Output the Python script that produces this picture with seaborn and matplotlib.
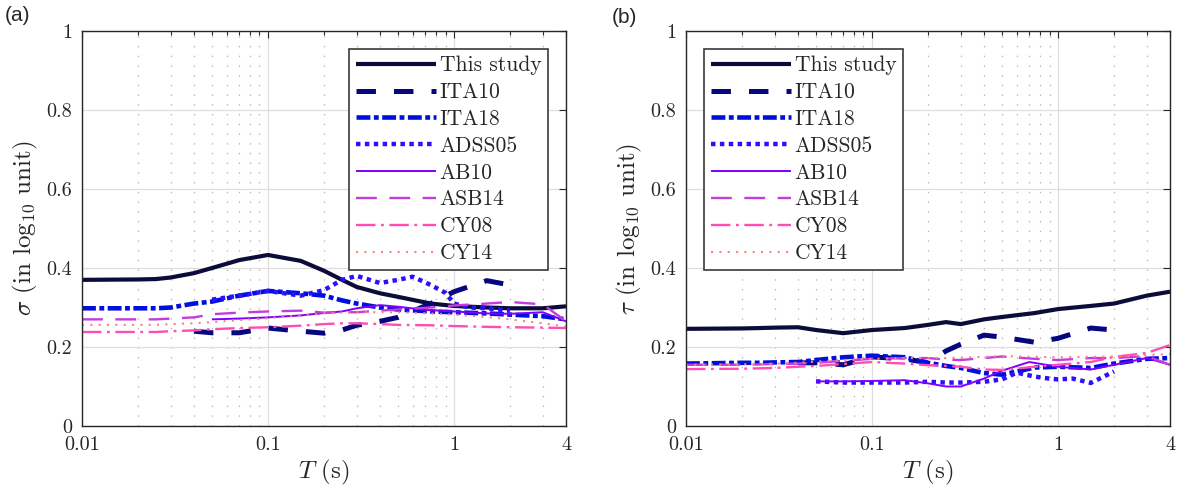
import numpy as np
import pandas as pd
import matplotlib
matplotlib.use("Agg")
import matplotlib.pyplot as plt
import seaborn as sns

# ---------------- data ----------------
T_full = [0.01, 0.02, 0.025, 0.03, 0.04, 0.05, 0.07, 0.1, 0.15, 0.2, 0.25, 0.3,
          0.4, 0.5, 0.75, 1.0, 1.5, 2.0, 3.0, 4.0]
T_ita10 = [0.04, 0.05, 0.07, 0.1, 0.15, 0.2, 0.25, 0.3, 0.4, 0.5, 0.75, 1.0, 1.5, 2.0]
T_adss = [0.05, 0.07, 0.1, 0.15, 0.2, 0.25, 0.3, 0.4, 0.5, 0.6, 0.75, 0.9, 1.0, 1.2, 1.5, 2.0]
T_ab10 = [0.05, 0.07, 0.1, 0.15, 0.2, 0.25, 0.3, 0.4, 0.5, 0.7, 1.0, 1.5, 2.0, 3.0, 4.0]

# panel (a): sigma
sig_this = [0.370, 0.371, 0.372, 0.376, 0.387, 0.400, 0.420, 0.433, 0.418, 0.393, 0.370, 0.352,
            0.336, 0.327, 0.310, 0.304, 0.300, 0.298, 0.298, 0.303]
sig_ita10 = [0.240, 0.236, 0.236, 0.248, 0.240, 0.235, 0.243, 0.255, 0.265, 0.275, 0.310, 0.340, 0.368, 0.357]
sig_ita18 = [0.298, 0.298, 0.298, 0.300, 0.310, 0.315, 0.330, 0.342, 0.336, 0.330, 0.318, 0.310,
             0.300, 0.295, 0.290, 0.288, 0.285, 0.282, 0.278, 0.270]
sig_adss05 = [0.320, 0.330, 0.342, 0.330, 0.344, 0.370, 0.380, 0.362, 0.370, 0.378, 0.357, 0.337,
              0.310, 0.300, 0.298, 0.292]
sig_ab10 = [0.270, 0.272, 0.275, 0.280, 0.286, 0.290, 0.298, 0.306, 0.302, 0.294, 0.290, 0.285,
            0.284, 0.288, 0.265]
sig_asb14 = [0.270, 0.270, 0.270, 0.272, 0.275, 0.283, 0.287, 0.290, 0.292, 0.287, 0.288, 0.288,
             0.292, 0.295, 0.300, 0.305, 0.310, 0.314, 0.308, 0.265]
sig_cy08 = [0.238, 0.238, 0.238, 0.240, 0.242, 0.245, 0.248, 0.250, 0.254, 0.258, 0.260, 0.260,
            0.258, 0.256, 0.255, 0.253, 0.251, 0.250, 0.249, 0.248]
sig_cy14 = [0.256, 0.256, 0.256, 0.258, 0.260, 0.263, 0.268, 0.273, 0.280, 0.285, 0.287, 0.288,
            0.288, 0.288, 0.285, 0.282, 0.276, 0.270, 0.260, 0.252]

# panel (b): tau
tau_this = [0.246, 0.247, 0.248, 0.249, 0.250, 0.243, 0.235, 0.243, 0.248, 0.256, 0.263, 0.258,
            0.270, 0.276, 0.286, 0.296, 0.304, 0.310, 0.330, 0.340]
tau_ita10 = [0.160, 0.160, 0.155, 0.175, 0.170, 0.160, 0.190, 0.207, 0.230, 0.225, 0.212, 0.222, 0.248, 0.243]
tau_ita18 = [0.158, 0.160, 0.160, 0.161, 0.162, 0.167, 0.174, 0.178, 0.174, 0.160, 0.152, 0.147,
             0.134, 0.130, 0.148, 0.150, 0.147, 0.158, 0.170, 0.172]
tau_adss05 = [0.113, 0.110, 0.110, 0.110, 0.112, 0.110, 0.110, 0.112, 0.118, 0.135, 0.125, 0.120,
              0.118, 0.120, 0.109, 0.138]
tau_ab10 = [0.113, 0.113, 0.114, 0.116, 0.108, 0.100, 0.100, 0.120, 0.140, 0.162, 0.150, 0.143,
            0.155, 0.172, 0.155]
tau_asb14 = [0.155, 0.155, 0.156, 0.157, 0.158, 0.160, 0.165, 0.170, 0.172, 0.172, 0.168, 0.167,
             0.172, 0.176, 0.170, 0.167, 0.172, 0.172, 0.177, 0.155]
tau_cy08 = [0.144, 0.145, 0.146, 0.147, 0.150, 0.152, 0.157, 0.162, 0.158, 0.154, 0.152, 0.150,
            0.143, 0.142, 0.150, 0.155, 0.162, 0.175, 0.185, 0.205]
tau_cy14 = [0.155, 0.156, 0.157, 0.158, 0.160, 0.163, 0.167, 0.170, 0.172, 0.172, 0.172, 0.173,
            0.175, 0.177, 0.175, 0.174, 0.175, 0.176, 0.180, 0.182]

labels = ["This study", "ITA10", "ITA18", "ADSS05", "AB10", "ASB14", "CY08", "CY14"]
periods = [T_full, T_ita10, T_full, T_adss, T_ab10, T_full, T_full, T_full]
sigma_series = [sig_this, sig_ita10, sig_ita18, sig_adss05, sig_ab10, sig_asb14, sig_cy08, sig_cy14]
tau_series = [tau_this, tau_ita10, tau_ita18, tau_adss05, tau_ab10, tau_asb14, tau_cy08, tau_cy14]

xtick_vals = [0.01, 0.1, 1, 4]
xtick_labels = ["0.01", "0.1", "1", "4"]
ytick_vals = [0, 0.2, 0.4, 0.6, 0.8, 1.0]
ytick_labels = ["0", "0.2", "0.4", "0.6", "0.8", "1"]
minor_vals = [0.02, 0.03, 0.04, 0.05, 0.06, 0.07, 0.08, 0.09,
              0.2, 0.3, 0.4, 0.5, 0.6, 0.7, 0.8, 0.9, 2, 3]

# ---------------- styles ----------------
colors = ["#0c0c3a", "#06067e", "#0010dc", "#2a10ff", "#8000ff", "#c43ddc", "#ff4db4", "#ff8080"]
widths = [3.0, 3.6, 3.3, 3.2, 1.4, 1.7, 1.7, 1.5]
dashes = [None, (14, 13), (10, 2.5, 3.5, 2.5), (3.2, 3.2), None, (15, 9), (14, 4, 2, 4), (1.5, 4.5)]

sns.set_style("white")
plt.rcParams["font.family"] = ["cmr10", "DejaVu Serif"]
plt.rcParams["mathtext.fontset"] = "cm"
plt.rcParams["axes.unicode_minus"] = False
plt.rcParams["lines.scale_dashes"] = False
plt.rcParams["axes.formatter.use_mathtext"] = True

fig = plt.figure(figsize=(11.8, 4.97), dpi=100)
ax1 = fig.add_axes([82 / 1180, 71 / 497, 484 / 1180, 395 / 497])
ax2 = fig.add_axes([686 / 1180, 71 / 497, 484 / 1180, 395 / 497])

spine_col = "#262626"


def draw(ax, series, ylabel, legend_loc):
    for lab, Tv, vals, c, lw, d in zip(labels, periods, series, colors, widths, dashes):
        df = pd.DataFrame({"T": Tv, "v": vals})
        sns.lineplot(data=df, x="T", y="v", ax=ax, color=c, linewidth=lw, label=lab,
                     estimator=None, sort=True)
        line = ax.lines[-1]
        if d is not None:
            line.set_dashes(d)
        line.set_dash_capstyle("butt")
        line.set_solid_capstyle("butt")
    ax.set_xscale("log")
    ax.set_xlim(0.01, 4)
    ax.set_ylim(0, 1)
    ax.set_xticks(xtick_vals, xtick_labels)
    ax.set_xticks(minor_vals, minor=True)
    ax.xaxis.set_minor_formatter(matplotlib.ticker.NullFormatter())
    ax.set_yticks(ytick_vals, ytick_labels)
    ax.grid(True, which="major", axis="both", color="#dedede", linewidth=0.9, linestyle="-")
    ax.grid(True, which="minor", axis="x", color="#b4b4b4", linewidth=0.9, linestyle=(0, (1, 6)))
    ax.set_axisbelow(True)
    ax.tick_params(which="both", direction="in", top=True, right=True, colors=spine_col,
                   labelcolor="#262626", labelsize=14.5, pad=7)
    ax.tick_params(which="major", length=5, width=0.8)
    ax.tick_params(which="minor", length=3, width=0.8)
    for s in ax.spines.values():
        s.set_color(spine_col)
        s.set_linewidth(1.0)
        s.set_visible(True)
    ax.set_xlabel(r"$T$ (s)", fontsize=18, labelpad=3)
    ax.set_ylabel(ylabel, fontsize=18, labelpad=5)
    leg = ax.legend(loc=legend_loc, fontsize=15.5, handlelength=3.75, handletextpad=0.15,
                    labelspacing=0.34, borderaxespad=0.85, borderpad=0.3,
                    frameon=True, fancybox=False, framealpha=1, edgecolor="#3a3a3a")
    leg.get_frame().set_linewidth(1.2)


draw(ax1, sigma_series, r"$\sigma$ (in log$_{10}$ unit)", "upper right")
draw(ax2, tau_series, r"$\tau$ (in log$_{10}$ unit)", "upper left")

fig.text(5 / 1180, 1 - 6 / 497, "(a)", fontsize=15, family="Liberation Sans", va="top", ha="left")
fig.text(612 / 1180, 1 - 8 / 497, "(b)", fontsize=15, family="Liberation Sans", va="top", ha="left")

fig.savefig("out.png", dpi=100)
